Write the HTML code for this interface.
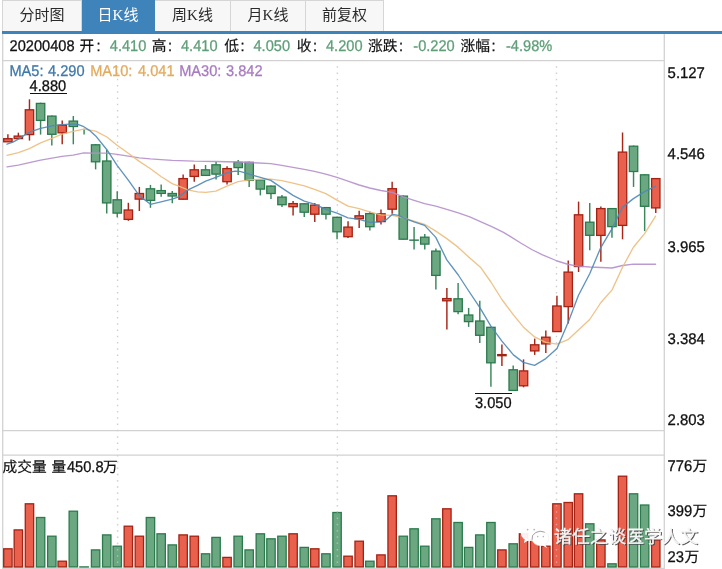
<!DOCTYPE html>
<html lang="zh"><head><meta charset="utf-8"><title>K线图</title>
<style>
html,body{margin:0;padding:0;background:#fff;}
body{width:722px;height:569px;overflow:hidden;position:relative;font-family:"Liberation Sans","Noto Sans CJK SC",sans-serif;}
.tabs{position:absolute;left:2px;top:0;height:31px;display:flex;}
.tab{box-sizing:border-box;height:31px;border:1px solid #d6d6d6;border-left:none;border-bottom:none;background:#f7f7f7;color:#2a2a2a;font-size:15px;line-height:29px;text-align:center;font-family:"Liberation Serif","Noto Sans CJK SC",serif;font-weight:400;}
.tab:first-child{border-left:1px solid #d6d6d6;}
.tab.on{background:#3f83bb;color:#fff;border-color:#3f83bb;}
.bar{position:absolute;left:2px;top:31px;width:720px;height:3px;background:#3f83bb;}
svg{position:absolute;left:0;top:0;}
svg text{font-family:"Liberation Sans","Noto Sans CJK SC",sans-serif;font-size:14.6px;text-rendering:geometricPrecision;}
</style></head><body>
<div class="tabs"><div class="tab" style="width:80px">分时图</div><div class="tab on" style="width:73px">日K线</div><div class="tab" style="width:76px">周K线</div><div class="tab" style="width:75px">月K线</div><div class="tab" style="width:78px">前复权</div></div>
<div class="bar"></div>
<svg width="722" height="569" viewBox="0 0 722 569">
<g stroke="#d2d2d2" stroke-width="1.3" fill="none">
<line x1="2.7" y1="34" x2="2.7" y2="569"/>
<line x1="664.3" y1="34" x2="664.3" y2="569"/>
<line x1="2.7" y1="60.6" x2="664.3" y2="60.6"/>
<line x1="2.7" y1="430.6" x2="664.3" y2="430.6"/>
<line x1="2.7" y1="455.2" x2="664.3" y2="455.2"/>
<line x1="2.7" y1="568.3" x2="664.3" y2="568.3"/>
</g>
<g stroke="#cfcfcf" stroke-width="1.4" stroke-dasharray="1.5 4.77" fill="none">
<line x1="117.6" y1="66.2" x2="117.6" y2="569"/>
<line x1="337.4" y1="66.2" x2="337.4" y2="569"/>
<line x1="556.5" y1="66.2" x2="556.5" y2="569"/>
</g>
<rect x="3.70" y="548.8" width="8.40" height="18.2" fill="#e9604c" stroke="#a32214" stroke-width="1.3"/>
<rect x="14.15" y="529.9" width="8.40" height="37.1" fill="#e9604c" stroke="#a32214" stroke-width="1.3"/>
<rect x="25.27" y="503.8" width="8.40" height="63.2" fill="#e9604c" stroke="#a32214" stroke-width="1.3"/>
<rect x="36.38" y="517.5" width="8.40" height="49.5" fill="#6ba882" stroke="#2b7a4c" stroke-width="1.3"/>
<rect x="47.62" y="536.2" width="8.40" height="30.7" fill="#6ba882" stroke="#2b7a4c" stroke-width="1.3"/>
<rect x="58.01" y="561.2" width="8.40" height="5.7" fill="#e9604c" stroke="#a32214" stroke-width="1.3"/>
<rect x="69.12" y="511.2" width="8.40" height="55.7" fill="#6ba882" stroke="#2b7a4c" stroke-width="1.3"/>
<rect x="79.88" y="566.9" width="8.40" height="0.1" fill="#6ba882" stroke="#2b7a4c" stroke-width="1.3"/>
<rect x="91.41" y="549.9" width="8.40" height="17.1" fill="#6ba882" stroke="#2b7a4c" stroke-width="1.3"/>
<rect x="102.53" y="534.9" width="8.40" height="32.1" fill="#6ba882" stroke="#2b7a4c" stroke-width="1.3"/>
<rect x="113.04" y="546.2" width="8.40" height="20.7" fill="#6ba882" stroke="#2b7a4c" stroke-width="1.3"/>
<rect x="124.15" y="526.2" width="8.40" height="40.7" fill="#e9604c" stroke="#a32214" stroke-width="1.3"/>
<rect x="135.15" y="536.2" width="8.40" height="30.7" fill="#e9604c" stroke="#a32214" stroke-width="1.3"/>
<rect x="146.26" y="517.5" width="8.40" height="49.5" fill="#6ba882" stroke="#2b7a4c" stroke-width="1.3"/>
<rect x="156.96" y="533.8" width="8.40" height="33.2" fill="#6ba882" stroke="#2b7a4c" stroke-width="1.3"/>
<rect x="168.07" y="544.9" width="8.40" height="22.1" fill="#6ba882" stroke="#2b7a4c" stroke-width="1.3"/>
<rect x="178.94" y="534.9" width="8.40" height="32.1" fill="#e9604c" stroke="#a32214" stroke-width="1.3"/>
<rect x="190.06" y="536.2" width="8.40" height="30.7" fill="#e9604c" stroke="#a32214" stroke-width="1.3"/>
<rect x="201.35" y="553.8" width="8.40" height="13.2" fill="#6ba882" stroke="#2b7a4c" stroke-width="1.3"/>
<rect x="211.87" y="537.4" width="8.40" height="29.6" fill="#6ba882" stroke="#2b7a4c" stroke-width="1.3"/>
<rect x="222.86" y="557.4" width="8.40" height="9.6" fill="#e9604c" stroke="#a32214" stroke-width="1.3"/>
<rect x="233.97" y="536.2" width="8.40" height="30.7" fill="#6ba882" stroke="#2b7a4c" stroke-width="1.3"/>
<rect x="244.97" y="549.9" width="8.40" height="17.1" fill="#6ba882" stroke="#2b7a4c" stroke-width="1.3"/>
<rect x="256.14" y="533.8" width="8.40" height="33.2" fill="#6ba882" stroke="#2b7a4c" stroke-width="1.3"/>
<rect x="266.78" y="538.8" width="8.40" height="28.2" fill="#6ba882" stroke="#2b7a4c" stroke-width="1.3"/>
<rect x="277.77" y="536.2" width="8.40" height="30.7" fill="#6ba882" stroke="#2b7a4c" stroke-width="1.3"/>
<rect x="288.88" y="533.8" width="8.40" height="33.2" fill="#e9604c" stroke="#a32214" stroke-width="1.3"/>
<rect x="300.06" y="547.4" width="8.40" height="19.6" fill="#6ba882" stroke="#2b7a4c" stroke-width="1.3"/>
<rect x="310.57" y="548.8" width="8.40" height="18.2" fill="#e9604c" stroke="#a32214" stroke-width="1.3"/>
<rect x="321.75" y="553.8" width="8.40" height="13.2" fill="#6ba882" stroke="#2b7a4c" stroke-width="1.3"/>
<rect x="332.86" y="512.5" width="8.40" height="54.5" fill="#6ba882" stroke="#2b7a4c" stroke-width="1.3"/>
<rect x="343.85" y="556.2" width="8.40" height="10.7" fill="#e9604c" stroke="#a32214" stroke-width="1.3"/>
<rect x="354.97" y="541.2" width="8.40" height="25.7" fill="#e9604c" stroke="#a32214" stroke-width="1.3"/>
<rect x="365.66" y="561.2" width="8.40" height="5.7" fill="#6ba882" stroke="#2b7a4c" stroke-width="1.3"/>
<rect x="376.78" y="554.9" width="8.40" height="12.1" fill="#e9604c" stroke="#a32214" stroke-width="1.3"/>
<rect x="387.95" y="495.8" width="8.40" height="71.2" fill="#e9604c" stroke="#a32214" stroke-width="1.3"/>
<rect x="399.06" y="536.2" width="8.40" height="30.7" fill="#6ba882" stroke="#2b7a4c" stroke-width="1.3"/>
<rect x="409.88" y="528.8" width="8.40" height="38.2" fill="#6ba882" stroke="#2b7a4c" stroke-width="1.3"/>
<rect x="420.57" y="546.2" width="8.40" height="20.7" fill="#6ba882" stroke="#2b7a4c" stroke-width="1.3"/>
<rect x="431.69" y="518.8" width="8.40" height="48.2" fill="#6ba882" stroke="#2b7a4c" stroke-width="1.3"/>
<rect x="442.68" y="508.8" width="8.40" height="58.2" fill="#e9604c" stroke="#a32214" stroke-width="1.3"/>
<rect x="453.91" y="522.5" width="8.40" height="44.5" fill="#6ba882" stroke="#2b7a4c" stroke-width="1.3"/>
<rect x="464.43" y="547.4" width="8.40" height="19.6" fill="#6ba882" stroke="#2b7a4c" stroke-width="1.3"/>
<rect x="475.60" y="534.9" width="8.40" height="32.1" fill="#6ba882" stroke="#2b7a4c" stroke-width="1.3"/>
<rect x="486.72" y="522.5" width="8.40" height="44.5" fill="#6ba882" stroke="#2b7a4c" stroke-width="1.3"/>
<rect x="497.71" y="549.9" width="8.40" height="17.1" fill="#e9604c" stroke="#a32214" stroke-width="1.3"/>
<rect x="509.00" y="543.8" width="8.40" height="23.2" fill="#6ba882" stroke="#2b7a4c" stroke-width="1.3"/>
<rect x="519.34" y="533.8" width="8.40" height="33.2" fill="#e9604c" stroke="#a32214" stroke-width="1.3"/>
<rect x="530.51" y="539.9" width="8.40" height="27.1" fill="#e9604c" stroke="#a32214" stroke-width="1.3"/>
<rect x="541.63" y="546.2" width="8.40" height="20.7" fill="#e9604c" stroke="#a32214" stroke-width="1.3"/>
<rect x="552.74" y="503.8" width="8.40" height="63.2" fill="#e9604c" stroke="#a32214" stroke-width="1.3"/>
<rect x="564.03" y="502.5" width="8.40" height="64.5" fill="#e9604c" stroke="#a32214" stroke-width="1.3"/>
<rect x="574.37" y="493.8" width="8.40" height="73.2" fill="#e9604c" stroke="#a32214" stroke-width="1.3"/>
<rect x="585.54" y="523.8" width="8.40" height="43.2" fill="#6ba882" stroke="#2b7a4c" stroke-width="1.3"/>
<rect x="596.66" y="539.9" width="8.40" height="27.1" fill="#e9604c" stroke="#a32214" stroke-width="1.3"/>
<rect x="607.77" y="563.8" width="8.40" height="3.2" fill="#6ba882" stroke="#2b7a4c" stroke-width="1.3"/>
<rect x="618.34" y="476.2" width="8.40" height="90.7" fill="#e9604c" stroke="#a32214" stroke-width="1.3"/>
<rect x="629.34" y="493.8" width="8.40" height="73.2" fill="#6ba882" stroke="#2b7a4c" stroke-width="1.3"/>
<rect x="640.45" y="505.0" width="8.40" height="62.0" fill="#6ba882" stroke="#2b7a4c" stroke-width="1.3"/>
<rect x="651.57" y="539.9" width="8.40" height="27.1" fill="#e9604c" stroke="#a32214" stroke-width="1.3"/>
<g stroke="#e0d8d8" stroke-opacity="0.5" stroke-width="1.4" stroke-dasharray="1.5 4.77" fill="none">
<line x1="117.6" y1="461.1" x2="117.6" y2="567"/>
<line x1="337.4" y1="461.1" x2="337.4" y2="567"/>
<line x1="556.5" y1="461.1" x2="556.5" y2="567"/>
</g>
<line x1="7.90" y1="134.3" x2="7.90" y2="142.0" stroke="#a62618" stroke-width="1.45"/>
<rect x="3.70" y="138.7" width="8.40" height="3.1" fill="#e9604c" stroke="#a32214" stroke-width="1.3"/>
<line x1="18.35" y1="132.7" x2="18.35" y2="138.8" stroke="#a62618" stroke-width="1.45"/>
<rect x="14.15" y="136.1" width="8.40" height="2.5" fill="#e9604c" stroke="#a32214" stroke-width="1.3"/>
<line x1="29.47" y1="99.3" x2="29.47" y2="140.6" stroke="#a62618" stroke-width="1.45"/>
<rect x="25.27" y="109.8" width="8.40" height="24.8" fill="#e9604c" stroke="#a32214" stroke-width="1.3"/>
<line x1="40.58" y1="102.7" x2="40.58" y2="134.6" stroke="#3a875c" stroke-width="1.45"/>
<rect x="36.38" y="103.4" width="8.40" height="17.0" fill="#6ba882" stroke="#2b7a4c" stroke-width="1.3"/>
<line x1="51.82" y1="115.4" x2="51.82" y2="145.4" stroke="#3a875c" stroke-width="1.45"/>
<rect x="47.62" y="116.1" width="8.40" height="18.2" fill="#6ba882" stroke="#2b7a4c" stroke-width="1.3"/>
<line x1="62.21" y1="120.4" x2="62.21" y2="144.3" stroke="#a62618" stroke-width="1.45"/>
<rect x="58.01" y="125.2" width="8.40" height="7.6" fill="#e9604c" stroke="#a32214" stroke-width="1.3"/>
<line x1="73.32" y1="116.0" x2="73.32" y2="144.3" stroke="#3a875c" stroke-width="1.45"/>
<rect x="69.12" y="121.1" width="8.40" height="5.4" fill="#6ba882" stroke="#2b7a4c" stroke-width="1.3"/>
<line x1="84.08" y1="128.7" x2="84.08" y2="134.4" stroke="#3a875c" stroke-width="1.45"/>
<line x1="95.61" y1="144.1" x2="95.61" y2="169.4" stroke="#3a875c" stroke-width="1.45"/>
<rect x="91.41" y="144.8" width="8.40" height="17.0" fill="#6ba882" stroke="#2b7a4c" stroke-width="1.3"/>
<line x1="106.73" y1="150.0" x2="106.73" y2="213.6" stroke="#3a875c" stroke-width="1.45"/>
<rect x="102.53" y="161.0" width="8.40" height="41.9" fill="#6ba882" stroke="#2b7a4c" stroke-width="1.3"/>
<line x1="117.24" y1="191.3" x2="117.24" y2="217.3" stroke="#3a875c" stroke-width="1.45"/>
<rect x="113.04" y="199.8" width="8.40" height="13.3" fill="#6ba882" stroke="#2b7a4c" stroke-width="1.3"/>
<line x1="128.35" y1="202.8" x2="128.35" y2="220.8" stroke="#a62618" stroke-width="1.45"/>
<rect x="124.15" y="210.0" width="8.40" height="9.4" fill="#e9604c" stroke="#a32214" stroke-width="1.3"/>
<line x1="139.35" y1="186.9" x2="139.35" y2="211.0" stroke="#a62618" stroke-width="1.45"/>
<rect x="135.15" y="193.5" width="8.40" height="5.6" fill="#e9604c" stroke="#a32214" stroke-width="1.3"/>
<line x1="150.46" y1="184.9" x2="150.46" y2="207.8" stroke="#3a875c" stroke-width="1.45"/>
<rect x="146.26" y="188.8" width="8.40" height="11.6" fill="#6ba882" stroke="#2b7a4c" stroke-width="1.3"/>
<line x1="161.16" y1="184.4" x2="161.16" y2="196.8" stroke="#3a875c" stroke-width="1.45"/>
<rect x="156.96" y="190.6" width="8.40" height="2.8" fill="#6ba882" stroke="#2b7a4c" stroke-width="1.3"/>
<line x1="172.27" y1="191.1" x2="172.27" y2="203.2" stroke="#3a875c" stroke-width="1.45"/>
<rect x="168.07" y="193.5" width="8.40" height="2.5" fill="#6ba882" stroke="#2b7a4c" stroke-width="1.3"/>
<line x1="183.14" y1="174.4" x2="183.14" y2="199.4" stroke="#a62618" stroke-width="1.45"/>
<rect x="178.94" y="178.6" width="8.40" height="20.6" fill="#e9604c" stroke="#a32214" stroke-width="1.3"/>
<line x1="194.26" y1="164.4" x2="194.26" y2="181.7" stroke="#a62618" stroke-width="1.45"/>
<rect x="190.06" y="169.8" width="8.40" height="6.6" fill="#e9604c" stroke="#a32214" stroke-width="1.3"/>
<line x1="205.55" y1="165.0" x2="205.55" y2="175.7" stroke="#3a875c" stroke-width="1.45"/>
<rect x="201.35" y="169.8" width="8.40" height="5.6" fill="#6ba882" stroke="#2b7a4c" stroke-width="1.3"/>
<line x1="216.07" y1="161.7" x2="216.07" y2="179.4" stroke="#3a875c" stroke-width="1.45"/>
<rect x="211.87" y="164.8" width="8.40" height="9.3" fill="#6ba882" stroke="#2b7a4c" stroke-width="1.3"/>
<line x1="227.06" y1="166.2" x2="227.06" y2="184.4" stroke="#a62618" stroke-width="1.45"/>
<rect x="222.86" y="168.6" width="8.40" height="13.1" fill="#e9604c" stroke="#a32214" stroke-width="1.3"/>
<line x1="238.17" y1="160.0" x2="238.17" y2="174.9" stroke="#3a875c" stroke-width="1.45"/>
<rect x="233.97" y="162.3" width="8.40" height="5.3" fill="#6ba882" stroke="#2b7a4c" stroke-width="1.3"/>
<line x1="249.17" y1="161.7" x2="249.17" y2="186.9" stroke="#3a875c" stroke-width="1.45"/>
<rect x="244.97" y="162.3" width="8.40" height="18.1" fill="#6ba882" stroke="#2b7a4c" stroke-width="1.3"/>
<line x1="260.34" y1="179.2" x2="260.34" y2="195.4" stroke="#3a875c" stroke-width="1.45"/>
<rect x="256.14" y="179.8" width="8.40" height="9.3" fill="#6ba882" stroke="#2b7a4c" stroke-width="1.3"/>
<line x1="270.98" y1="185.4" x2="270.98" y2="199.1" stroke="#3a875c" stroke-width="1.45"/>
<rect x="266.78" y="186.1" width="8.40" height="7.4" fill="#6ba882" stroke="#2b7a4c" stroke-width="1.3"/>
<line x1="281.97" y1="194.9" x2="281.97" y2="206.9" stroke="#3a875c" stroke-width="1.45"/>
<rect x="277.77" y="197.1" width="8.40" height="7.6" fill="#6ba882" stroke="#2b7a4c" stroke-width="1.3"/>
<line x1="293.08" y1="201.1" x2="293.08" y2="215.6" stroke="#a62618" stroke-width="1.45"/>
<rect x="288.88" y="203.6" width="8.40" height="3.1" fill="#e9604c" stroke="#a32214" stroke-width="1.3"/>
<line x1="304.26" y1="203.1" x2="304.26" y2="216.9" stroke="#3a875c" stroke-width="1.45"/>
<rect x="300.06" y="203.8" width="8.40" height="8.4" fill="#6ba882" stroke="#2b7a4c" stroke-width="1.3"/>
<line x1="314.77" y1="203.0" x2="314.77" y2="221.9" stroke="#a62618" stroke-width="1.45"/>
<rect x="310.57" y="205.1" width="8.40" height="9.1" fill="#e9604c" stroke="#a32214" stroke-width="1.3"/>
<line x1="325.95" y1="206.9" x2="325.95" y2="219.4" stroke="#3a875c" stroke-width="1.45"/>
<rect x="321.75" y="207.6" width="8.40" height="6.6" fill="#6ba882" stroke="#2b7a4c" stroke-width="1.3"/>
<line x1="337.06" y1="216.7" x2="337.06" y2="239.3" stroke="#3a875c" stroke-width="1.45"/>
<rect x="332.86" y="217.3" width="8.40" height="14.5" fill="#6ba882" stroke="#2b7a4c" stroke-width="1.3"/>
<line x1="348.05" y1="221.2" x2="348.05" y2="238.1" stroke="#a62618" stroke-width="1.45"/>
<rect x="343.85" y="227.1" width="8.40" height="9.6" fill="#e9604c" stroke="#a32214" stroke-width="1.3"/>
<line x1="359.17" y1="210.7" x2="359.17" y2="228.1" stroke="#a62618" stroke-width="1.45"/>
<rect x="354.97" y="215.8" width="8.40" height="2.9" fill="#e9604c" stroke="#a32214" stroke-width="1.3"/>
<line x1="369.86" y1="211.5" x2="369.86" y2="230.6" stroke="#3a875c" stroke-width="1.45"/>
<rect x="365.66" y="213.6" width="8.40" height="13.1" fill="#6ba882" stroke="#2b7a4c" stroke-width="1.3"/>
<line x1="380.98" y1="209.4" x2="380.98" y2="224.4" stroke="#a62618" stroke-width="1.45"/>
<rect x="376.78" y="213.8" width="8.40" height="7.8" fill="#e9604c" stroke="#a32214" stroke-width="1.3"/>
<line x1="392.15" y1="181.7" x2="392.15" y2="213.7" stroke="#a62618" stroke-width="1.45"/>
<rect x="387.95" y="188.7" width="8.40" height="20.5" fill="#e9604c" stroke="#a32214" stroke-width="1.3"/>
<line x1="403.26" y1="195.4" x2="403.26" y2="239.4" stroke="#3a875c" stroke-width="1.45"/>
<rect x="399.06" y="196.1" width="8.40" height="43.1" fill="#6ba882" stroke="#2b7a4c" stroke-width="1.3"/>
<line x1="414.08" y1="226.9" x2="414.08" y2="249.4" stroke="#3a875c" stroke-width="1.45"/>
<rect x="409.88" y="240.1" width="8.40" height="0.1" fill="#6ba882" stroke="#2b7a4c" stroke-width="1.3"/>
<line x1="424.77" y1="234.1" x2="424.77" y2="249.4" stroke="#3a875c" stroke-width="1.45"/>
<rect x="420.57" y="237.2" width="8.40" height="6.9" fill="#6ba882" stroke="#2b7a4c" stroke-width="1.3"/>
<line x1="435.89" y1="248.6" x2="435.89" y2="289.4" stroke="#3a875c" stroke-width="1.45"/>
<rect x="431.69" y="251.1" width="8.40" height="24.3" fill="#6ba882" stroke="#2b7a4c" stroke-width="1.3"/>
<line x1="446.88" y1="288.0" x2="446.88" y2="329.4" stroke="#a62618" stroke-width="1.45"/>
<rect x="442.68" y="298.6" width="8.40" height="2.2" fill="#e9604c" stroke="#a32214" stroke-width="1.3"/>
<line x1="458.11" y1="283.0" x2="458.11" y2="314.2" stroke="#3a875c" stroke-width="1.45"/>
<rect x="453.91" y="298.8" width="8.40" height="12.8" fill="#6ba882" stroke="#2b7a4c" stroke-width="1.3"/>
<line x1="468.63" y1="307.9" x2="468.63" y2="326.9" stroke="#3a875c" stroke-width="1.45"/>
<rect x="464.43" y="315.0" width="8.40" height="6.6" fill="#6ba882" stroke="#2b7a4c" stroke-width="1.3"/>
<line x1="479.80" y1="300.7" x2="479.80" y2="343.1" stroke="#3a875c" stroke-width="1.45"/>
<rect x="475.60" y="321.0" width="8.40" height="14.3" fill="#6ba882" stroke="#2b7a4c" stroke-width="1.3"/>
<line x1="490.92" y1="326.7" x2="490.92" y2="386.8" stroke="#3a875c" stroke-width="1.45"/>
<rect x="486.72" y="327.3" width="8.40" height="35.5" fill="#6ba882" stroke="#2b7a4c" stroke-width="1.3"/>
<line x1="501.91" y1="344.4" x2="501.91" y2="366.1" stroke="#a62618" stroke-width="1.45"/>
<rect x="497.71" y="354.6" width="8.40" height="1.1" fill="#e9604c" stroke="#a32214" stroke-width="1.3"/>
<line x1="513.20" y1="365.6" x2="513.20" y2="390.6" stroke="#3a875c" stroke-width="1.45"/>
<rect x="509.00" y="369.8" width="8.40" height="20.6" fill="#6ba882" stroke="#2b7a4c" stroke-width="1.3"/>
<line x1="523.54" y1="359.4" x2="523.54" y2="387.3" stroke="#a62618" stroke-width="1.45"/>
<rect x="519.34" y="370.9" width="8.40" height="14.9" fill="#e9604c" stroke="#a32214" stroke-width="1.3"/>
<line x1="534.71" y1="338.6" x2="534.71" y2="354.9" stroke="#a62618" stroke-width="1.45"/>
<rect x="530.51" y="344.8" width="8.40" height="6.1" fill="#e9604c" stroke="#a32214" stroke-width="1.3"/>
<line x1="545.83" y1="330.5" x2="545.83" y2="353.0" stroke="#a62618" stroke-width="1.45"/>
<rect x="541.63" y="337.2" width="8.40" height="6.7" fill="#e9604c" stroke="#a32214" stroke-width="1.3"/>
<line x1="556.94" y1="295.7" x2="556.94" y2="331.9" stroke="#a62618" stroke-width="1.45"/>
<rect x="552.74" y="306.0" width="8.40" height="25.6" fill="#e9604c" stroke="#a32214" stroke-width="1.3"/>
<line x1="568.23" y1="260.5" x2="568.23" y2="323.6" stroke="#a62618" stroke-width="1.45"/>
<rect x="564.03" y="272.1" width="8.40" height="34.5" fill="#e9604c" stroke="#a32214" stroke-width="1.3"/>
<line x1="578.57" y1="201.6" x2="578.57" y2="272.0" stroke="#a62618" stroke-width="1.45"/>
<rect x="574.37" y="214.8" width="8.40" height="51.7" fill="#e9604c" stroke="#a32214" stroke-width="1.3"/>
<line x1="589.74" y1="202.9" x2="589.74" y2="250.3" stroke="#3a875c" stroke-width="1.45"/>
<rect x="585.54" y="222.2" width="8.40" height="13.1" fill="#6ba882" stroke="#2b7a4c" stroke-width="1.3"/>
<line x1="600.86" y1="206.6" x2="600.86" y2="261.7" stroke="#a62618" stroke-width="1.45"/>
<rect x="596.66" y="208.6" width="8.40" height="26.8" fill="#e9604c" stroke="#a32214" stroke-width="1.3"/>
<line x1="611.97" y1="207.9" x2="611.97" y2="237.8" stroke="#3a875c" stroke-width="1.45"/>
<rect x="607.77" y="208.6" width="8.40" height="18.0" fill="#6ba882" stroke="#2b7a4c" stroke-width="1.3"/>
<line x1="622.54" y1="132.5" x2="622.54" y2="239.3" stroke="#a62618" stroke-width="1.45"/>
<rect x="618.34" y="152.1" width="8.40" height="73.3" fill="#e9604c" stroke="#a32214" stroke-width="1.3"/>
<line x1="633.54" y1="145.5" x2="633.54" y2="186.9" stroke="#3a875c" stroke-width="1.45"/>
<rect x="629.34" y="146.2" width="8.40" height="25.3" fill="#6ba882" stroke="#2b7a4c" stroke-width="1.3"/>
<line x1="644.65" y1="174.2" x2="644.65" y2="231.1" stroke="#3a875c" stroke-width="1.45"/>
<rect x="640.45" y="174.8" width="8.40" height="31.5" fill="#6ba882" stroke="#2b7a4c" stroke-width="1.3"/>
<line x1="655.77" y1="177.9" x2="655.77" y2="213.1" stroke="#a62618" stroke-width="1.45"/>
<rect x="651.57" y="178.6" width="8.40" height="29.3" fill="#e9604c" stroke="#a32214" stroke-width="1.3"/>
<polyline fill="none" stroke="#b48fcb" stroke-width="1.35" stroke-opacity="0.9" stroke-linejoin="round" stroke-linecap="round" points="7.0,166.8 18.4,165.1 29.4,162.6 40.6,160.1 52.0,158.1 62.0,156.4 73.2,155.1 83.8,152.9 95.7,153.1 106.9,153.1 117.1,154.4 128.3,156.2 139.3,157.9 150.5,158.9 161.0,159.6 172.2,160.4 194.2,161.2 215.9,161.5 238.1,162.0 249.1,162.5 270.8,163.7 281.8,165.4 293.0,167.4 304.3,169.4 314.5,171.4 325.8,174.2 337.0,177.4 348.0,181.2 359.2,185.0 369.7,188.0 380.9,190.5 392.2,192.4 403.4,196.9 414.1,200.4 424.6,203.7 435.8,206.2 446.8,209.4 458.3,212.9 469.8,216.9 481.0,221.9 492.3,226.9 503.5,232.4 509.7,236.1 520.7,243.0 531.7,249.5 542.0,254.6 557.2,261.0 568.5,264.5 578.4,266.2 589.7,267.0 600.9,267.5 612.1,268.0 622.4,265.5 633.4,264.2 644.6,264.2 655.6,264.2"/>
<polyline fill="none" stroke="#ecbd7c" stroke-width="1.35" stroke-opacity="0.9" stroke-linejoin="round" stroke-linecap="round" points="7.0,155.4 18.4,152.6 29.4,148.7 40.6,142.9 52.0,138.4 62.0,134.2 73.2,131.4 83.8,129.2 95.7,131.2 106.9,137.0 117.1,145.2 128.3,153.3 139.3,161.4 150.5,168.8 161.0,176.5 172.2,183.6 178.7,186.2 188.0,189.9 197.5,191.9 205.7,192.4 215.9,191.2 226.9,186.2 238.1,181.7 249.1,179.9 260.4,179.2 270.8,179.2 281.8,180.7 293.0,183.2 304.3,185.9 314.5,189.4 325.8,193.7 337.0,200.2 348.0,206.2 359.2,208.7 369.7,211.9 380.9,214.9 392.2,215.4 403.4,217.9 414.1,221.2 424.6,224.4 435.8,231.1 446.8,238.6 458.3,247.4 469.8,258.1 481.0,267.8 490.9,282.0 501.9,299.5 513.4,314.9 523.3,326.9 534.6,336.9 545.8,342.4 557.0,344.1 568.5,339.3 578.4,329.9 589.7,319.5 600.9,302.5 612.1,289.9 622.4,267.5 633.4,247.3 644.6,233.6 655.6,216.1"/>
<polyline fill="none" stroke="#4f87b6" stroke-width="1.35" stroke-opacity="0.9" stroke-linejoin="round" stroke-linecap="round" points="7.0,144.2 12.9,142.1 18.4,139.2 24.5,135.1 29.4,132.1 40.6,128.4 52.0,125.9 62.0,124.7 73.2,123.9 78.5,124.7 83.8,126.7 90.2,130.9 95.7,135.9 106.9,149.7 117.1,165.3 128.3,180.2 139.3,195.6 150.5,204.3 161.0,201.8 172.2,199.1 178.7,196.9 188.0,189.9 197.5,185.4 205.7,181.2 215.9,177.4 226.9,172.9 234.9,171.2 239.9,171.4 249.1,174.2 254.9,175.9 260.4,177.4 270.8,180.4 281.8,187.9 293.0,195.4 304.3,201.1 314.5,204.1 325.8,209.4 337.0,213.2 348.0,217.9 359.2,219.4 369.7,222.4 380.9,221.9 386.0,219.9 392.2,214.4 398.6,215.4 403.4,217.9 414.1,221.9 424.6,225.4 435.8,237.4 446.8,259.9 458.3,275.0 468.4,290.5 479.7,307.4 490.9,326.2 501.9,341.1 513.4,354.9 523.3,362.4 534.6,365.4 545.8,358.6 557.0,348.6 568.5,321.5 578.4,295.5 589.7,273.7 600.9,247.3 612.1,228.6 622.4,207.4 633.4,198.6 644.6,191.6 655.6,186.2"/>
<line x1="30" y1="93.5" x2="67" y2="93.5" stroke="#111" stroke-width="1.1"/>
<text transform="translate(29.6,91.3) scale(0.942,1)" fill="#111" stroke="#111" stroke-width="0.30" style="font-size:15.5px">4.880</text>
<line x1="475" y1="393.5" x2="512" y2="393.5" stroke="#111" stroke-width="1.1"/>
<text transform="translate(475.0,407.8) scale(0.942,1)" fill="#111" stroke="#111" stroke-width="0.30" style="font-size:15.5px">3.050</text>
<text transform="translate(9.6,51.2) scale(0.942,1)" fill="#111" stroke="#111" stroke-width="0.30" style="font-size:15.5px">20200408</text>
<text x="79.5" y="51.2" fill="#111" stroke="#111" stroke-width="0.18" style="font-size:14.7px">开</text>
<text transform="translate(96.4,51.2) scale(0.942,1)" fill="#111" stroke="#111" stroke-width="0.30" style="font-size:15.5px">:</text>
<text transform="translate(109.8,51.2) scale(0.942,1)" fill="#5f9f78" stroke="#5f9f78" stroke-width="0.30" style="font-size:15.5px">4.410</text>
<text x="151.7" y="51.2" fill="#111" stroke="#111" stroke-width="0.18" style="font-size:14.7px">高</text>
<text transform="translate(168.0,51.2) scale(0.942,1)" fill="#111" stroke="#111" stroke-width="0.30" style="font-size:15.5px">:</text>
<text transform="translate(181.0,51.2) scale(0.942,1)" fill="#5f9f78" stroke="#5f9f78" stroke-width="0.30" style="font-size:15.5px">4.410</text>
<text x="224.3" y="51.2" fill="#111" stroke="#111" stroke-width="0.18" style="font-size:14.7px">低</text>
<text transform="translate(240.5,51.2) scale(0.942,1)" fill="#111" stroke="#111" stroke-width="0.30" style="font-size:15.5px">:</text>
<text transform="translate(253.5,51.2) scale(0.942,1)" fill="#5f9f78" stroke="#5f9f78" stroke-width="0.30" style="font-size:15.5px">4.050</text>
<text x="296.8" y="51.2" fill="#111" stroke="#111" stroke-width="0.18" style="font-size:14.7px">收</text>
<text transform="translate(313.0,51.2) scale(0.942,1)" fill="#111" stroke="#111" stroke-width="0.30" style="font-size:15.5px">:</text>
<text transform="translate(326.0,51.2) scale(0.942,1)" fill="#5f9f78" stroke="#5f9f78" stroke-width="0.30" style="font-size:15.5px">4.200</text>
<text x="368.0" y="51.2" fill="#111" stroke="#111" stroke-width="0.18" style="font-size:14.7px">涨跌</text>
<text transform="translate(399.1,51.2) scale(0.942,1)" fill="#111" stroke="#111" stroke-width="0.30" style="font-size:15.5px">:</text>
<text transform="translate(413.3,51.2) scale(0.942,1)" fill="#5f9f78" stroke="#5f9f78" stroke-width="0.30" style="font-size:15.5px">-0.220</text>
<text x="460.6" y="51.2" fill="#111" stroke="#111" stroke-width="0.18" style="font-size:14.7px">涨幅</text>
<text transform="translate(491.6,51.2) scale(0.942,1)" fill="#111" stroke="#111" stroke-width="0.30" style="font-size:15.5px">:</text>
<text transform="translate(506.0,51.2) scale(0.942,1)" fill="#5f9f78" stroke="#5f9f78" stroke-width="0.30" style="font-size:15.5px">-4.98%</text>
<text transform="translate(9.4,75.8) scale(0.942,1)" fill="#3f78aa" stroke="#3f78aa" stroke-width="0.30" style="font-size:15.5px">MA5:</text>
<text transform="translate(48.0,75.8) scale(0.942,1)" fill="#3f78aa" stroke="#3f78aa" stroke-width="0.30" style="font-size:15.5px">4.290</text>
<text transform="translate(90.2,75.8) scale(0.942,1)" fill="#e3ab5f" stroke="#e3ab5f" stroke-width="0.30" style="font-size:15.5px">MA10:</text>
<text transform="translate(138.0,75.8) scale(0.942,1)" fill="#e3ab5f" stroke="#e3ab5f" stroke-width="0.30" style="font-size:15.5px">4.041</text>
<text transform="translate(179.2,75.8) scale(0.942,1)" fill="#a77bc0" stroke="#a77bc0" stroke-width="0.30" style="font-size:15.5px">MA30:</text>
<text transform="translate(226.0,75.8) scale(0.942,1)" fill="#a77bc0" stroke="#a77bc0" stroke-width="0.30" style="font-size:15.5px">3.842</text>
<text transform="translate(667.6,77.7) scale(0.962,1)" fill="#111" stroke="#111" stroke-width="0.30" style="font-size:15.5px">5.127</text>
<text transform="translate(667.6,158.9) scale(0.962,1)" fill="#111" stroke="#111" stroke-width="0.30" style="font-size:15.5px">4.546</text>
<text transform="translate(667.6,252.0) scale(0.962,1)" fill="#111" stroke="#111" stroke-width="0.30" style="font-size:15.5px">3.965</text>
<text transform="translate(667.6,344.1) scale(0.962,1)" fill="#111" stroke="#111" stroke-width="0.30" style="font-size:15.5px">3.384</text>
<text transform="translate(667.6,425.1) scale(0.962,1)" fill="#111" stroke="#111" stroke-width="0.30" style="font-size:15.5px">2.803</text>
<text transform="translate(667.6,471.1) scale(0.955,1)" fill="#111" stroke="#111" stroke-width="0.30" style="font-size:15.5px">776</text>
<text x="692.6" y="471.0" fill="#111" stroke="#111" stroke-width="0.18" style="font-size:14.7px">万</text>
<text transform="translate(667.6,516.3) scale(0.955,1)" fill="#111" stroke="#111" stroke-width="0.30" style="font-size:15.5px">399</text>
<text x="692.6" y="516.2" fill="#111" stroke="#111" stroke-width="0.18" style="font-size:14.7px">万</text>
<text transform="translate(667.6,561.7) scale(0.955,1)" fill="#111" stroke="#111" stroke-width="0.30" style="font-size:15.5px">23</text>
<text x="684.4" y="561.6" fill="#111" stroke="#111" stroke-width="0.18" style="font-size:14.7px">万</text>
<text x="2.6" y="471.9" fill="#111" stroke="#111" stroke-width="0.18" style="font-size:14.7px">成交量</text>
<text x="51.6" y="471.9" fill="#111" stroke="#111" stroke-width="0.18" style="font-size:14.7px">量</text>
<text transform="translate(67.0,471.9) scale(0.942,1)" fill="#111" stroke="#111" stroke-width="0.30" style="font-size:15.5px">450.8</text>
<text x="103.0" y="471.9" fill="#111" stroke="#111" stroke-width="0.18" style="font-size:14.7px">万</text>
<g id="wm">
<g transform="translate(521,523)"><ellipse cx="9.5" cy="9.3" rx="10" ry="8.6" fill="#fff" fill-opacity=".92"/><path d="M4 15 L3 20 L8 17z" fill="#fff"/><ellipse cx="19.5" cy="15.5" rx="8.5" ry="7.2" fill="#fff" stroke="#e9e9e9" stroke-width="0.6"/><path d="M24 21 L26 25 L21 22.3z" fill="#fff"/><path d="M11.13 16.75 A8.5 7.2 0 0 1 23.75 9.26" fill="none" stroke="#555" stroke-width="0.8" stroke-opacity=".65"/><circle cx="6.6" cy="6.6" r="0.9" fill="#b5b5b5"/><circle cx="13.2" cy="6.6" r="0.9" fill="#b5b5b5"/><circle cx="16.7" cy="13.6" r="0.8" fill="#b5b5b5"/><circle cx="22.3" cy="13.6" r="0.8" fill="#b5b5b5"/></g>
<text x="555.2" y="544.4" style="font-size:18px;fill:#444;opacity:.85">诸任之谈医学人文</text>
<text x="554.1" y="543.3" style="font-size:18px;fill:#f6f6f6;stroke:#f6f6f6;stroke-width:.3">诸任之谈医学人文</text>
</g>
</svg></body></html>
